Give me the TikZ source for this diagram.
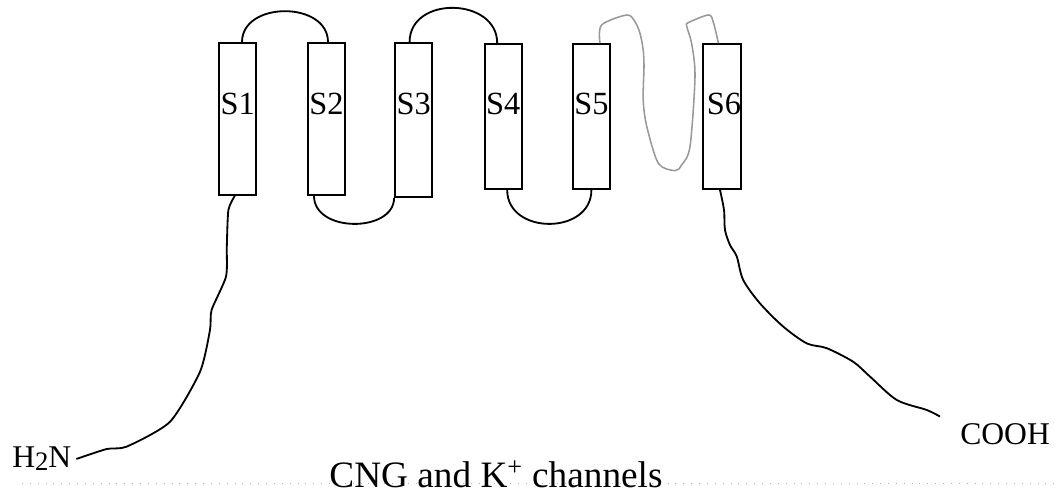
\documentclass[tikz,border=0pt]{standalone}
\usepackage{fontspec}
\setmainfont{Liberation Serif}

\begin{document}
\begin{tikzpicture}[
    seg/.style={draw, line width=1.3pt, minimum width=0.93cm, minimum height=3.8cm, inner sep=0pt},
    seglab/.style={font=\fontsize{23}{25}\selectfont, inner sep=0pt},
    endlab/.style={font=\fontsize{22.5}{26}\selectfont, inner sep=0pt},
    loopline/.style={line width=1.3pt},
    pore/.style={line width=1.1pt, black!40, line join=round},
    tail/.style={line width=1.3pt, line join=round}
]
\useasboundingbox (0,0) rectangle (26.375,12.425);

% Faint dotted base line
\draw[black!30, line width=0.6pt, dash pattern=on 0.6pt off 5pt] (0.55,0.35) -- (26.375,0.35);

% Transmembrane segments
\node[seg] (s1) at (5.94,9.45) {};
\node[seg] (s2) at (8.16,9.45) {};
\node[seg, minimum height=3.85cm] (s3) at (10.34,9.425) {};
\node[seg, minimum height=3.625cm] (s4) at (12.58,9.51) {};
\node[seg, minimum height=3.625cm] (s5) at (14.785,9.51) {};
\node[seg, minimum height=3.625cm] (s6) at (18.05,9.51) {};

\node[seglab] (l1) at (s1 |- 0,9.83) {S1};
\node[seglab] (l2) at (s2 |- 0,9.83) {S2};
\node[seglab] (l3) at (s3 |- 0,9.83) {S3};
\node[seglab] (l4) at (s4 |- 0,9.83) {S4};
\node[seglab] (l5) at (s5 |- 0,9.83) {S5};
\node[seglab] (l6) at ([xshift=0.05cm]s6 |- 0,9.83) {S6};

% Ends and caption
\node[endlab, anchor=base west] (nterm) at (0.3,0.725) {H{\fontsize{19}{20}\selectfont\raisebox{-0.1em}{2}}N};
\node[endlab, anchor=base west] (cterm) at (24.0,1.3) {COOH};
\node[anchor=base, font=\fontsize{26.5}{30}\selectfont, inner sep=0pt] (caption) at (12.4,0.225) {CNG and K\textsuperscript{+} channels};

% Outer loops
\draw[loopline] ([xshift=0.11cm]s1.north) .. controls +(0,1.03) and +(0,1.03) .. ([xshift=0.04cm]s2.north);
\draw[loopline] ([xshift=-0.1cm]s3.north) .. controls +(0,1.17) and +(0,1.15) .. ([xshift=-0.15cm]s4.north);

% Inner loops
\draw[loopline] ([xshift=-0.31cm]s2.south) .. controls +(0,-0.93) and +(0,-0.87) .. (s3.south west);
\draw[loopline] ([xshift=0.1cm]s4.south) .. controls +(0,-1.13) and +(0,-1.13) .. (s5.south);

% Pore loop
\coordinate (p0) at ([xshift=0.215cm]s5.north);
\coordinate (p1) at ([xshift=-0.09cm]s6.north);
\draw[pore] plot[smooth, tension=0.5] coordinates {(p0) (15.04,11.8) (15.67,12.05) (15.875,11.88) (16.0,11.59) (16.08,11.175) (16.1,10.76) (16.08,9.925) (16.17,9.26) (16.46,8.34) (16.875,8.16) (17.04,8.3) (17.25,8.76) (17.375,10.51) (17.29,11.34) (17.17,11.76) (17.21,11.86) (17.71,12.05) (17.83,11.88) (p1)};

% N terminus
\coordinate (n0) at ([xshift=-0.07cm]s1.south);
\coordinate (n1) at ([xshift=0.12cm]nterm.east);
\draw[tail] plot[smooth, tension=0.4] coordinates {(n0) (5.71,7.175) (5.67,6.26) (5.65,5.51) (5.29,4.675) (5.25,4.175) (5.0,3.13) (4.25,1.88) (3.17,1.26) (2.67,1.2) (n1)};

% C terminus
\coordinate (c0) at ([xshift=-0.05cm]s6.south);
\coordinate (c1) at ([xshift=-0.5cm,yshift=0.18cm]cterm.north west);
\draw[tail] plot[smooth, tension=0.5] coordinates {(c0) (18.1,7.175) (18.125,6.675) (18.25,6.3) (18.42,6.01) (18.58,5.425) (19.0,4.84) (19.58,4.26) (20.17,3.84) (20.67,3.72) (21.33,3.38) (21.75,3.01) (22.42,2.425) (23.17,2.175) (c1)};
\end{tikzpicture}
\end{document}
